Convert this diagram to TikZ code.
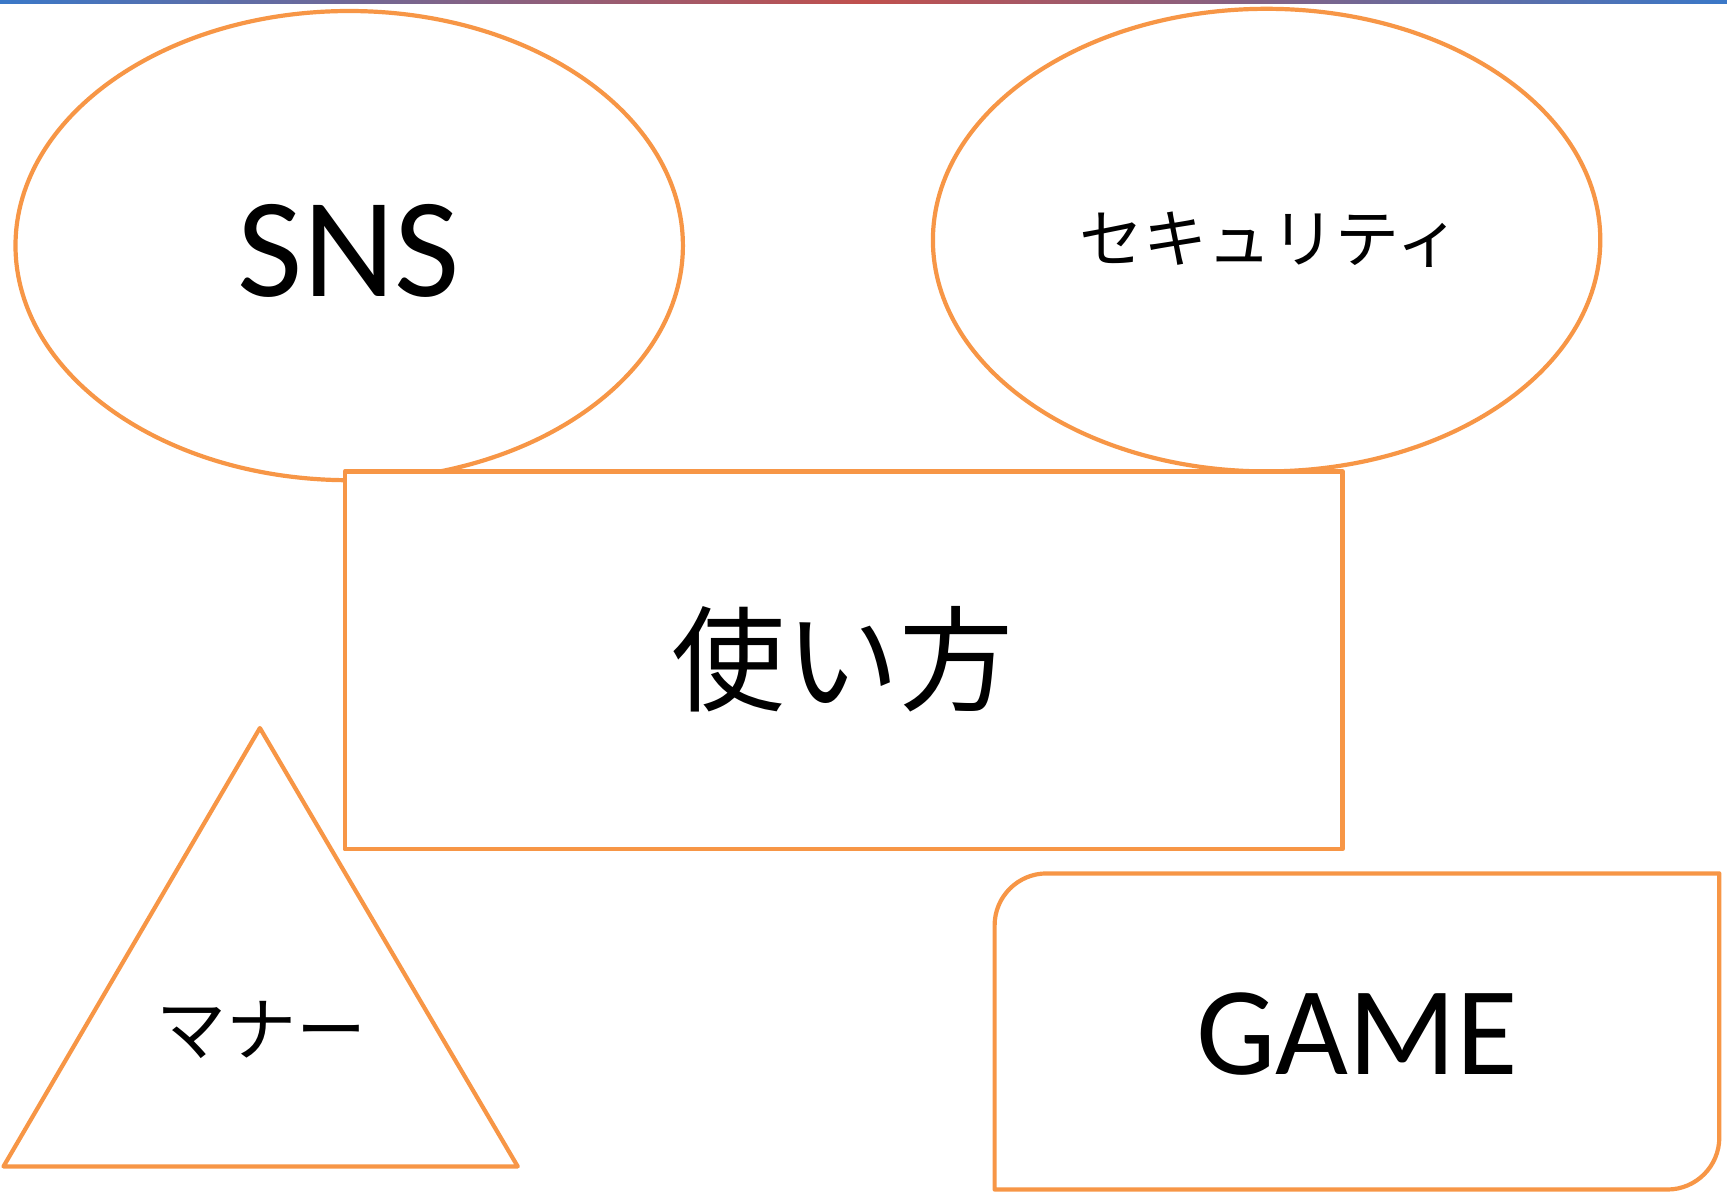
\documentclass[tikz,border=0pt]{standalone}
\usepackage{fontspec}
\setmainfont{Carlito}
\newfontfamily\jp{Noto Sans CJK JP}
\usetikzlibrary{shapes.geometric}
\definecolor{orng}{HTML}{F79646}
\definecolor{topblue}{HTML}{3A78C8}
\definecolor{topred}{HTML}{C0504D}
\begin{document}
\begin{tikzpicture}[x=0.5pt,y=-0.5pt,
  outl/.style={draw=orng,line width=2.1pt,line join=round,fill=white},
  ell/.style={outl,ellipse,inner sep=0pt}]
\useasboundingbox (0,0) rectangle (1727,1196);
\shade[left color=topblue,right color=topblue,middle color=topred] (0,0) rectangle (1727,3.5);
% ellipses
\node[ell,minimum width=333.7pt,minimum height=234.6pt] (sns) at (349.2,245.6) {};
\node[font=\fontsize{71pt}{78pt}\selectfont] (snst) at (349,251) {SNS};
\node[ell,minimum width=333.7pt,minimum height=231.3pt] (sec) at (1266.6,240.1) {};
\node[font=\jp\fontsize{32pt}{36pt}\selectfont] (sect) at (1270,240) {セキュリティ};
% rectangle
\node[outl,rectangle,inner sep=0pt,minimum width=498.95pt,minimum height=188.9pt] (use) at (843.6,660.3) {};
\node[font=\jp\fontsize{57pt}{64pt}\selectfont] (uset) at (842,659) {使い方};
% triangle
\coordinate (ta) at (259.9,728);
\coordinate (tl) at (3.5,1166.4);
\coordinate (tr) at (517.7,1166.4);
\draw[outl] (ta) -- (tr) -- (tl) -- cycle;
\node[font=\jp\fontsize{35pt}{40pt}\selectfont] (man) at (261,1030) {マナー};
% game shape
\coordinate (gbl) at (994.6,1189.5);
\coordinate (gtr) at (1719.3,873.4);
\draw[outl] (gbl) -- (994.6,925.4) arc[start angle=180,end angle=90,radius=26pt]
  -- (gtr) -- (1719.3,1137.5) arc[start angle=0,end angle=-90,radius=26pt] -- cycle;
\node[font=\fontsize{63pt}{70pt}\selectfont] (game) at (1357,1034) {GAME};
\end{tikzpicture}
\end{document}
